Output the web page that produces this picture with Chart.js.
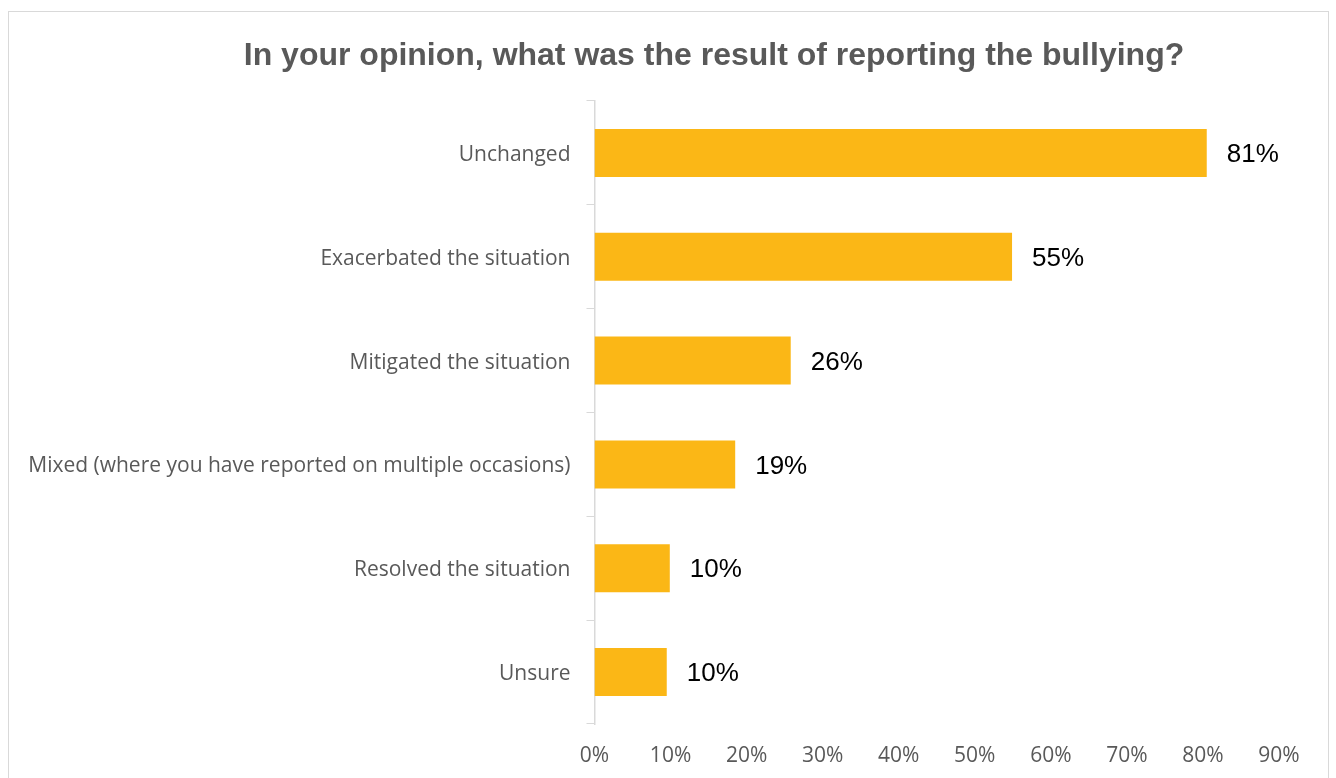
<!DOCTYPE html>
<html>
<head>
<meta charset="utf-8">
<title>Result of reporting the bullying</title>
<script src="https://cdn.jsdelivr.net/npm/chart.js@4.4.1/dist/chart.umd.min.js"></script>
<style>
  html, body { margin: 0; padding: 0; background: #ffffff; overflow: hidden; }
  #wrap { position: relative; width: 1336px; height: 778px; }
  #frame {
    position: absolute; left: 8px; top: 11px; width: 1321px; height: 800px;
    border: 1px solid #d9d9d9; box-sizing: border-box; pointer-events: none;
  }
  canvas { position: absolute; left: 0; top: 0; }
</style>
</head>
<body>
<div id="wrap">
  <canvas id="chart" width="1336" height="778"></canvas>
  <div id="frame"></div>
</div>
<script>
// Survey answers, top to bottom
const categories = [
  'Unchanged',
  'Exacerbated the situation',
  'Mitigated the situation',
  'Mixed (where you have reported on multiple occasions)',
  'Resolved the situation',
  'Unsure'
];
// Share of respondents, in percent
const shares = [80.5, 54.9, 25.8, 18.5, 9.9, 9.5];
// Horizontal axis range and step, in percent
const axisMin = 0;
const axisMax = 90;
const axisStep = 10;

const titleText = 'In your opinion, what was the result of reporting the bullying?';

// Heading above the plot, centred on the frame's content column
const headline = {
  id: 'headline',
  afterDraw(chart) {
    const ctx = chart.ctx;
    ctx.save();
    ctx.font = 'bold 32px "Liberation Sans", Arial, sans-serif';
    ctx.fillStyle = '#595959';
    ctx.textAlign = 'center';
    ctx.textBaseline = 'middle';
    ctx.fillText(titleText, 714, 56);
    ctx.restore();
  }
};

// Writes each bar's rounded value just past its end
const valueLabels = {
  id: 'valueLabels',
  afterDatasetsDraw(chart) {
    const ctx = chart.ctx;
    const meta = chart.getDatasetMeta(0);
    ctx.save();
    ctx.font = '26px "Liberation Sans", Arial, sans-serif';
    ctx.fillStyle = '#000000';
    ctx.textAlign = 'left';
    ctx.textBaseline = 'middle';
    meta.data.forEach((bar, i) => {
      const v = chart.data.datasets[0].data[i];
      ctx.fillText(Math.round(v) + '%', bar.x + 20, bar.y + 2);
    });
    ctx.restore();
  }
};

new Chart(document.getElementById('chart'), {
  type: 'bar',
  data: {
    labels: categories,
    datasets: [{
      data: shares,
      backgroundColor: '#FBB716',
      borderWidth: 0,
      categoryPercentage: 1,
      barPercentage: 0.462
    }]
  },
  options: {
    indexAxis: 'y',
    responsive: false,
    animation: false,
    events: [],
    layout: { padding: { left: 0, right: 57, top: 101, bottom: 0 } },
    plugins: {
      legend: { display: false },
      tooltip: { enabled: false },
      title: { display: false }
    },
    scales: {
      x: {
        min: axisMin,
        max: axisMax,
        grid: { display: false },
        border: { display: false },
        ticks: {
          stepSize: axisStep,
          padding: 11,
          color: '#595959',
          font: { family: '"Open Sans", sans-serif', size: 21 },
          callback: (v) => v + '%'
        },
        afterFit(axis) { axis.height = 54; }
      },
      y: {
        grid: {
          display: true,
          drawOnChartArea: false,
          drawTicks: true,
          tickLength: 8,
          color: '#d9d9d9',
          offset: true
        },
        border: { display: true, color: '#d9d9d9', width: 1.5 },
        ticks: {
          padding: 16,
          labelOffset: 2,
          color: '#595959',
          font: { family: '"Open Sans", sans-serif', size: 21 }
        },
        afterFit(axis) { axis.width = 594.5; }
      }
    }
  },
  plugins: [valueLabels, headline]
});
</script>
</body>
</html>
